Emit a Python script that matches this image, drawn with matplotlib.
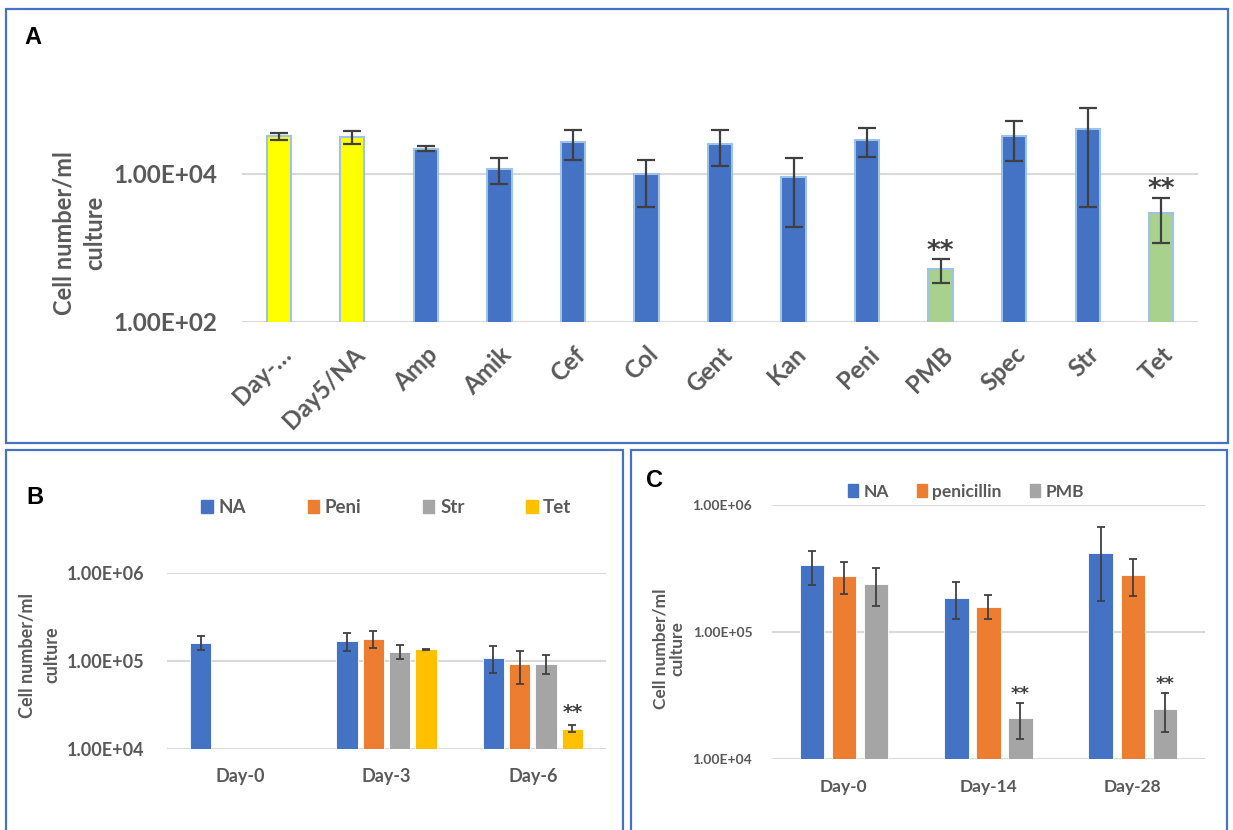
import numpy as np
import matplotlib
matplotlib.use("Agg")
import matplotlib.pyplot as plt
from matplotlib.patches import Rectangle, Patch

plt.rcParams["font.family"] = ["Lato", "DejaVu Sans"]

nan = np.nan

# Panel A: cell numbers per treatment
a_labels = ["Day-…", "Day5/NA", "Amp", "Amik", "Cef", "Col", "Gent",
            "Kan", "Peni", "PMB", "Spec", "Str", "Tet"]
a_mean = [33000, 32000, 21800, 11700, 26900, 10000, 25500, 9200,
          28800, 520, 33000, 40300, 2940]
a_low = [28800, 25500, 20500, 7300, 15300, 3600, 12700, 1930,
         16800, 330, 14900, 3600, 1170]
a_high = [36200, 38200, 23900, 16300, 39100, 15600, 39100, 16300,
          42400, 700, 52200, 78300, 4770]
a_sig = ["", "", "", "", "", "", "", "", "", "**", "", "", "**"]

# Panel B: time course, days 0-6
b_groups = ["Day-0", "Day-3", "Day-6"]
b_series = ["NA", "Peni", "Str", "Tet"]
b_na = [159000, 170000, 108000]
b_na_low = [134000, 129000, 73200]
b_na_high = [191000, 208000, 147000]
b_peni = [nan, 181000, 92300]
b_peni_low = [nan, 141000, 54700]
b_peni_high = [nan, 219000, 131000]
b_str = [nan, 127000, 93800]
b_str_low = [nan, 105000, 71300]
b_str_high = [nan, 151000, 118600]
b_tet = [nan, 136000, 17100]
b_tet_low = [nan, 134500, 15600]
b_tet_high = [nan, 137500, 18900]
b_sig = [["", "", ""], ["", "", ""], ["", "", ""], ["", "", "**"]]

# Panel C: time course, days 0-28
c_groups = ["Day-0", "Day-14", "Day-28"]
c_series = ["NA", "penicillin", "PMB"]
c_na = [339000, 187000, 419000]
c_na_low = [235000, 126000, 176000]
c_na_high = [436000, 248000, 671000]
c_pen = [274000, 159000, 279000]
c_pen_low = [200000, 127000, 191000]
c_pen_high = [356000, 196000, 376000]
c_pmb = [239000, 21000, 24900]
c_pmb_low = [160000, 14400, 16300]
c_pmb_high = [321000, 27600, 33400]
c_sig = [["", "", ""], ["", "", ""], ["", "**", "**"]]

BLUE = "#4472C4"
ORANGE = "#ED7D31"
GREY = "#A5A5A5"
GOLD = "#FFC000"
TXT = "#595959"
ERR = "#404040"
GRID = "#D9D9D9"

W, H = 1233, 830
fig = plt.figure(figsize=(W / 100, H / 100), dpi=100)


def rect(x0, y0, x1, y1):
    return [x0 / W, 1 - y1 / H, (x1 - x0) / W, (y1 - y0) / H]


def style_axes(ax, ticks, ticklabels, size):
    ax.set_yscale("log")
    ax.set_yticks(ticks)
    ax.set_yticklabels(ticklabels)
    ax.yaxis.set_minor_locator(matplotlib.ticker.NullLocator())
    for s in ax.spines.values():
        s.set_visible(False)
    ax.tick_params(length=0, colors=TXT, labelsize=size)
    for t in ax.get_yticklabels() + ax.get_xticklabels():
        t.set_fontweight("bold")
    ax.yaxis.grid(True, color=GRID, lw=1.5)
    ax.set_axisbelow(True)


def errbars(ax, x, mean, low, high, cap, lw):
    mean = np.array(mean, float)
    err = [mean - np.array(low, float), np.array(high, float) - mean]
    ax.errorbar(x, mean, yerr=err, fmt="none", ecolor=ERR, elinewidth=lw,
                capsize=cap, capthick=lw)


# ---- panel boxes and letters
for x0, y0, x1, y1 in [(6, 9, 1228, 443), (6, 450, 623, 840), (631, 450, 1227, 840)]:
    fig.patches.append(Rectangle((x0 / W, 1 - y1 / H), (x1 - x0) / W, (y1 - y0) / H,
                                 transform=fig.transFigure, fill=False,
                                 edgecolor=BLUE, lw=1.6))
for lab, x, y in [("A", 24, 37), ("B", 26, 497), ("C", 646, 480)]:
    fig.text(x / W, 1 - y / H, lab, fontsize=17, fontweight="bold",
             family=["Liberation Sans", "DejaVu Sans"], va="center", ha="left")

# ---- panel A
axA = fig.add_axes(rect(242, 63.2, 1198, 321.7))
xa = np.arange(len(a_labels))
colA = ["#FFFF00", "#FFFF00"] + [BLUE] * 7 + ["#A9D18E", BLUE, BLUE, "#A9D18E"]
axA.bar(xa, a_mean, width=0.33, color=colA, edgecolor="#9DC3E6", lw=1.5, bottom=0)
errbars(axA, xa, a_mean, a_low, a_high, 6.5, 1.6)
for i, s in enumerate(a_sig):
    if s:
        axA.annotate(s, (xa[i], a_high[i]), xytext=(0, -4), textcoords="offset points",
                     ha="center", va="bottom", fontsize=19, fontweight="bold",
                     color=ERR, family="DejaVu Sans")
axA.set_xlim(-0.5, len(a_labels) - 0.5)
axA.set_ylim(1e2, 10 ** 5.5)
axA.set_xticks(xa)
axA.set_xticklabels(a_labels)
style_axes(axA, [1e2, 1e4], ["1.00E+02", "1.00E+04"], 17.5)
plt.setp(axA.get_xticklabels(), rotation=45, ha="right", rotation_mode="anchor")
axA.tick_params(axis="x", pad=15)
axA.tick_params(axis="y", pad=18)
fig.text(79 / W, 1 - 233 / H, "Cell number/ml\nculture", rotation=90, ha="center",
         va="center", fontsize=17, fontweight="bold", color=TXT, linespacing=1.4)

# ---- panel B
axB = fig.add_axes(rect(167, 573.3, 606, 749))
xb = np.arange(len(b_groups))
b_vals = [b_na, b_peni, b_str, b_tet]
b_lows = [b_na_low, b_peni_low, b_str_low, b_tet_low]
b_highs = [b_na_high, b_peni_high, b_str_high, b_tet_high]
colB = [BLUE, ORANGE, GREY, GOLD]
for k in range(4):
    xs = xb + (k - 1.5) * 0.18
    axB.bar(xs, b_vals[k], width=0.146, color=colB[k], edgecolor="white", lw=0.6)
    errbars(axB, xs, b_vals[k], b_lows[k], b_highs[k], 3, 1.3)
    for i, s in enumerate(b_sig[k]):
        if s:
            axB.annotate(s, (xs[i], b_highs[k][i]), xytext=(0, 2), textcoords="offset points",
                         ha="center", va="bottom", fontsize=14, fontweight="bold",
                         color=ERR, family="DejaVu Sans")
axB.set_xlim(-0.5, 2.5)
axB.set_ylim(1e4, 1e6)
axB.set_xticks(xb)
axB.set_xticklabels(b_groups)
style_axes(axB, [1e4, 1e5, 1e6], ["1.00E+04", "1.00E+05", "1.00E+06"], 13)
axB.tick_params(axis="x", pad=14)
axB.tick_params(axis="y", pad=16)
axB.legend(handles=[Patch(color=c, label=l) for c, l in zip(colB, b_series)],
           loc="center", bbox_to_anchor=(0.5, 1.372), ncol=4, frameon=False,
           handlelength=0.6, handleheight=0.7, handletextpad=0.3, columnspacing=3.3,
           prop={"size": 13.5, "weight": "bold"}, labelcolor=TXT)
fig.text(39.5 / W, 1 - 655 / H, "Cell number/ml\nculture", rotation=90, ha="center",
         va="center", fontsize=13, fontweight="bold", color=TXT, linespacing=1.55)

# ---- panel C
axC = fig.add_axes(rect(771.7, 505, 1205, 759.3))
xc = np.arange(len(c_groups))
c_vals = [c_na, c_pen, c_pmb]
c_lows = [c_na_low, c_pen_low, c_pmb_low]
c_highs = [c_na_high, c_pen_high, c_pmb_high]
colC = [BLUE, ORANGE, GREY]
for k in range(3):
    xs = xc + (k - 1) * 0.222
    axC.bar(xs, c_vals[k], width=0.17, color=colC[k], edgecolor="white", lw=0.6)
    errbars(axC, xs, c_vals[k], c_lows[k], c_highs[k], 3, 1.3)
    for i, s in enumerate(c_sig[k]):
        if s:
            axC.annotate(s, (xs[i], c_highs[k][i]), xytext=(0, 0), textcoords="offset points",
                         ha="center", va="bottom", fontsize=13, fontweight="bold",
                         color=ERR, family="DejaVu Sans")
axC.set_xlim(-0.5, 2.5)
axC.set_ylim(1e4, 1e6)
axC.set_xticks(xc)
axC.set_xticklabels(c_groups)
style_axes(axC, [1e4, 1e5, 1e6], ["1.00E+04", "1.00E+05", "1.00E+06"], 10)
axC.tick_params(axis="x", labelsize=12.5, pad=14)
axC.tick_params(axis="y", pad=14)
axC.legend(handles=[Patch(color=c, label=l) for c, l in zip(colC, c_series)],
           loc="center", bbox_to_anchor=(0.448, 1.052), ncol=3, frameon=False,
           handlelength=0.6, handleheight=0.8, handletextpad=0.3, columnspacing=1.6,
           prop={"size": 12.5, "weight": "bold"}, labelcolor=TXT)
fig.text(669 / W, 1 - 649 / H, "Cell number/ml\nculture", rotation=90, ha="center",
         va="center", fontsize=12.5, fontweight="bold", color=TXT, linespacing=1.05)

fig.savefig("out.png", dpi=100)
